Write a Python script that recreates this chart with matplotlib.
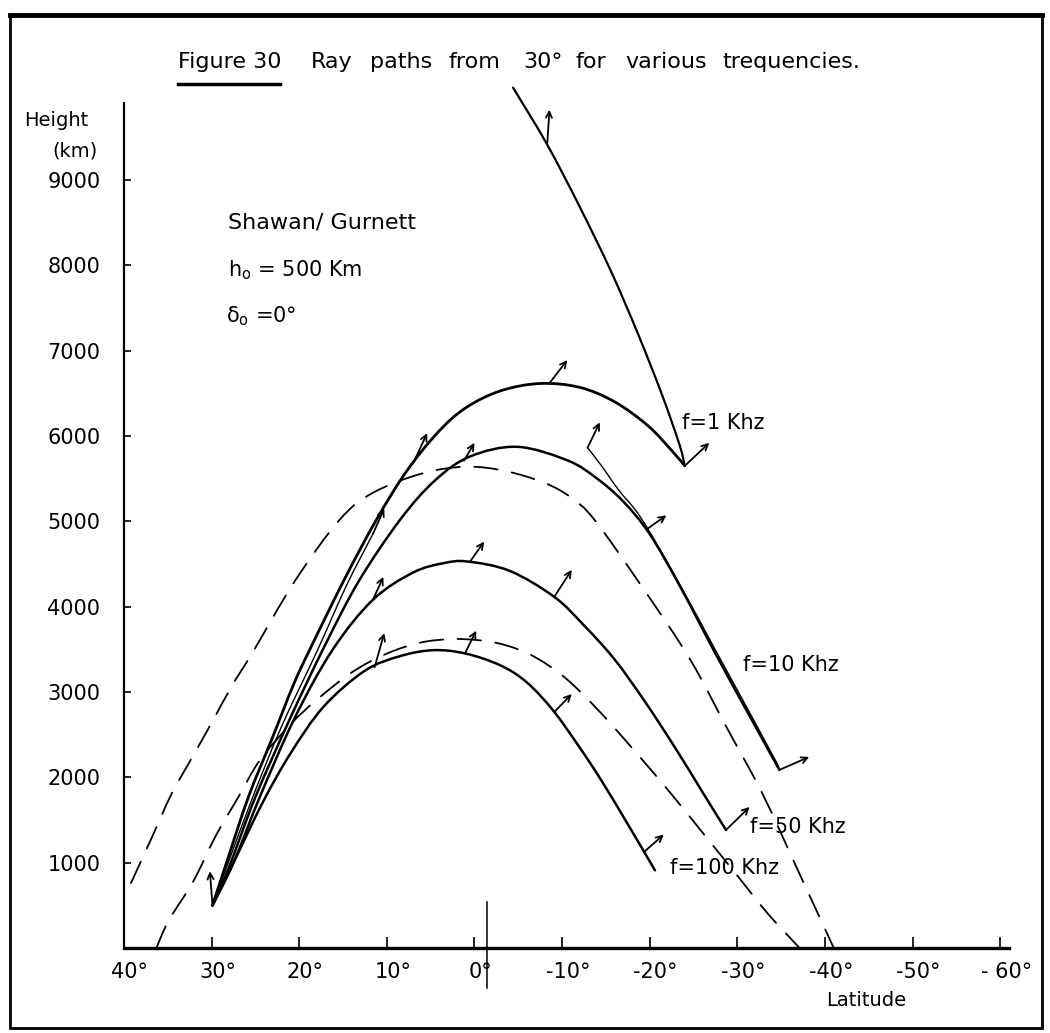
import matplotlib
matplotlib.use('Agg')
import matplotlib.pyplot as plt
from matplotlib.patches import Rectangle, PathPatch
from matplotlib.lines import Line2D
from matplotlib.path import Path
from matplotlib.transforms import ScaledTranslation

plt.rcParams['font.family'] = ['DejaVu Sans']

# ---------------- data (latitude in degrees, height in km) ----------------
lat_1k = [29.9, 28.3, 25.8, 23.0, 20.6, 18.5, 14.8, 11.2, 7.8, 4.2, 1.0, -3.0, -7.5, -12.0, -16.0, -19.8, -22.5, -24.0]
h_1k = [500, 1000, 1770, 2480, 3100, 3560, 4330, 5017, 5580, 6040, 6330, 6530, 6615, 6570, 6400, 6120, 5830, 5650]
lat_1k_up = [-24.0, -23.4, -21.4, -18.7, -15.6, -12.0, -8.3, -4.4]
h_1k_up = [5650, 5897, 6483, 7186, 7925, 8687, 9414, 10082]

lat_10k = [29.9, 28.0, 25.0, 21.0, 17.0, 13.2, 8.5, 4.5, 0.5, -4.9, -10.7, -14.0, -17.0, -20.0, -23.5, -27.5, -31.5, -34.8]
h_10k = [500, 950, 1770, 2700, 3560, 4300, 5017, 5480, 5760, 5873, 5710, 5500, 5230, 4850, 4230, 3450, 2700, 2087]

lat_b = [29.9, 28.1, 25.3, 22.0, 17.9, 14.6, 11.6]
h_b = [500, 1000, 1770, 2600, 3494, 4250, 4850]
lat_c = [-12.9, -14.5, -16.5, -19.0, -23.0, -27.5, -31.5, -34.7]
h_c = [5862, 5650, 5360, 5040, 4340, 3490, 2740, 2130]

lat_50k = [29.9, 27.5, 24.5, 20.5, 16.2, 11.6, 7.0, 3.5, 0.8, -4.0, -9.1, -12.5, -16.0, -19.5, -23.0, -26.0, -28.7]
h_50k = [500, 1000, 1770, 2700, 3494, 4080, 4400, 4510, 4529, 4420, 4115, 3780, 3380, 2880, 2330, 1830, 1383]

lat_100k = [29.9, 27.5, 24.2, 21.0, 17.2, 12.5, 8.5, 4.7, 1.0, -3.0, -6.0, -9.0, -12.0, -14.5, -17.5, -20.6]
h_100k = [500, 1000, 1700, 2280, 2830, 3250, 3420, 3490, 3450, 3310, 3110, 2780, 2350, 1960, 1450, 910]

lat_dash_up = [39.2, 36.8, 34.6, 32.3, 30.0, 27.7, 25.4, 20.5, 15.4, 11.6, 6.0, 1.0, -3.5, -8.0, -11.0, -13.7, -19.0, -24.5, -28.7, -32.9, -37.0, -41.0]
h_dash_up = [762, 1300, 1800, 2220, 2638, 3070, 3450, 4300, 5017, 5334, 5560, 5640, 5590, 5450, 5280, 5017, 4250, 3400, 2600, 1800, 890, 0]

lat_dash_lo = [36.3, 34.9, 32.1, 29.5, 26.9, 24.5, 21.0, 18.1, 14.0, 10.0, 6.1, 2.5, -0.6, -3.5, -6.7, -10.3, -14.1, -18.1, -22.5, -26.2, -29.9, -33.5, -37.1]
h_dash_lo = [0, 322, 780, 1320, 1777, 2200, 2620, 2900, 3230, 3450, 3580, 3620, 3605, 3550, 3420, 3170, 2790, 2330, 1800, 1330, 860, 400, 0]

# wave-normal arrows: base (lat, h) and tip (lat, h)
arrow_base_lat = [-8.3, -8.5, -24.0, 7.0, 1.2, 11.6, -12.9, -19.7, -34.8, 0.5, 11.6, -9.1, -28.7, 11.4, 1.1, -9.1, -19.4, 29.9]
arrow_base_h = [9414, 6612, 5650, 5680, 5710, 4850, 5862, 4910, 2087, 4529, 4080, 4115, 1383, 3290, 3450, 2765, 1130, 500]
arrow_tip_lat = [-8.55, -10.6, -26.8, 5.4, 0.0, 10.3, -14.3, -21.9, -38.2, -1.1, 10.4, -11.1, -31.4, 10.3, -0.2, -11.1, -21.6, 30.2]
arrow_tip_h = [9824, 6890, 5920, 6034, 5920, 5150, 6160, 5070, 2239, 4762, 4349, 4431, 1653, 3690, 3719, 2976, 1330, 900]

x_ticks = [40, 30, 20, 10, 0, -10, -20, -30, -40, -50, -60]
x_tick_labels = ['40°', '30°', '20°', '10°', '0°', '-10°', '-20°', '-30°', '-40°', '-50°', '- 60°']
y_ticks = [1000, 2000, 3000, 4000, 5000, 6000, 7000, 8000, 9000]
y_tick_labels = ['1000', '2000', '3000', '4000', '5000', '6000', '7000', '8000', '9000']

title_words = ['Ray', 'paths', 'from', '30°', 'for', 'various', 'trequencies.']

# ---------------- figure ----------------
W, H = 1050, 1033
fig = plt.figure(figsize=(W / 100, H / 100), dpi=100)
fig.patch.set_facecolor('white')


def fx(px):
    return px / W


def fy(py):
    return 1 - py / H


def smooth_path(xs, ys):
    """Cubic Bezier path passing through the given points (Catmull-Rom tangents)."""
    pts = list(zip(xs, ys))
    n = len(pts)
    verts = [pts[0]]
    codes = [Path.MOVETO]
    for i in range(n - 1):
        p0 = pts[i - 1] if i > 0 else pts[i]
        p1 = pts[i]
        p2 = pts[i + 1]
        p3 = pts[i + 2] if i + 2 < n else pts[i + 1]
        c1 = (p1[0] + (p2[0] - p0[0]) / 6.0, p1[1] + (p2[1] - p0[1]) / 6.0)
        c2 = (p2[0] - (p3[0] - p1[0]) / 6.0, p2[1] - (p3[1] - p1[1]) / 6.0)
        verts += [c1, c2, p2]
        codes += [Path.CURVE4] * 3
    return Path(verts, codes)


def draw_curve(ax, xs, ys, lw, ls='solid'):
    patch = PathPatch(smooth_path(xs, ys), fill=False, lw=lw, ec='black',
                      linestyle=ls, clip_on=False, capstyle='round')
    ax.add_patch(patch)


ax = fig.add_axes([fx(124), fy(948), fx(1009) - fx(124), fy(103) - fy(948)])
ax.set_xlim(40, -61.0)
ax.set_ylim(0, 9902)
for s in ['top', 'right']:
    ax.spines[s].set_visible(False)
ax.spines['left'].set_linewidth(1.6)
ax.spines['bottom'].set_linewidth(2.4)

ax.set_xticks(x_ticks)
ax.set_xticklabels(x_tick_labels)
ax.set_yticks(y_ticks)
ax.set_yticklabels(y_tick_labels)
ax.tick_params(axis='x', direction='in', length=8, width=1.2, pad=10, labelsize=15)
ax.tick_params(axis='y', direction='in', length=5, width=1.2, pad=17, labelsize=15)
shift = ScaledTranslation(6 / 100, 0, fig.dpi_scale_trans)
for lbl in ax.get_xticklabels():
    lbl.set_transform(lbl.get_transform() + shift)

draw_curve(ax, lat_1k, h_1k, 2.0)
draw_curve(ax, lat_1k_up, h_1k_up, 1.6)
draw_curve(ax, lat_10k, h_10k, 1.8)
draw_curve(ax, lat_b, h_b, 1.0)
draw_curve(ax, lat_c, h_c, 1.0)
draw_curve(ax, lat_50k, h_50k, 1.8)
draw_curve(ax, lat_100k, h_100k, 1.8)
draw_curve(ax, lat_dash_up, h_dash_up, 1.3, (0, (13, 8)))
draw_curve(ax, lat_dash_lo, h_dash_lo, 1.3, (0, (13, 8)))

for bl, bh, tl, th in zip(arrow_base_lat, arrow_base_h, arrow_tip_lat, arrow_tip_h):
    ax.annotate('', xy=(tl, th), xytext=(bl, bh), annotation_clip=False,
                arrowprops=dict(arrowstyle='->', lw=1.3, color='black',
                                shrinkA=0, shrinkB=0, mutation_scale=11))

# marker line at the equator
ax.plot([-1.47, -1.47], [540, -470], color='black', lw=1.1, clip_on=False)

# curve labels
lab = dict(fontsize=15, ha='left', va='center')
fig.text(fx(682), fy(423), 'f=1 Khz', **lab)
fig.text(fx(743), fy(665), 'f=10 Khz', **lab)
fig.text(fx(750), fy(827), 'f=50 Khz', **lab)
fig.text(fx(670), fy(868), 'f=100 Khz', **lab)

# parameters
fig.text(fx(228), fy(222), 'Shawan/ Gurnett', fontsize=16, ha='left', va='center')
fig.text(fx(228), fy(270), r'h$_\mathregular{o}$ = 500 Km', fontsize=15, ha='left', va='center')
fig.text(fx(226), fy(316), r'δ$_\mathregular{o}$ =0°', fontsize=15, ha='left', va='center')

# axis titles
fig.text(fx(88), fy(121), 'Height', fontsize=14, ha='right', va='center')
fig.text(fx(98), fy(151), '(km)', fontsize=14, ha='right', va='center')
fig.text(fx(866), fy(1001), 'Latitude', fontsize=14, ha='center', va='center')

# title
fig.text(fx(178), fy(62), 'Figure 30', fontsize=16, ha='left', va='center')
fig.add_artist(Line2D([fx(178), fx(280)], [fy(84), fy(84)], color='black', lw=2.5,
                      transform=fig.transFigure))
word_x = [311, 370, 448, 523, 575, 625, 722]
for wx, word in zip(word_x, title_words):
    fig.text(fx(wx), fy(62), word, fontsize=16, ha='left', va='center')

# outer frame
fig.add_artist(Rectangle((fx(10), fy(1028)), fx(1042) - fx(10), fy(15) - fy(1028),
                         transform=fig.transFigure, fill=False, lw=2.0, ec='black'))
fig.add_artist(Line2D([fx(10), fx(1042)], [fy(15), fy(15)], color='black', lw=3.5,
                      transform=fig.transFigure))

fig.savefig('out.png', dpi=100, facecolor='white')
